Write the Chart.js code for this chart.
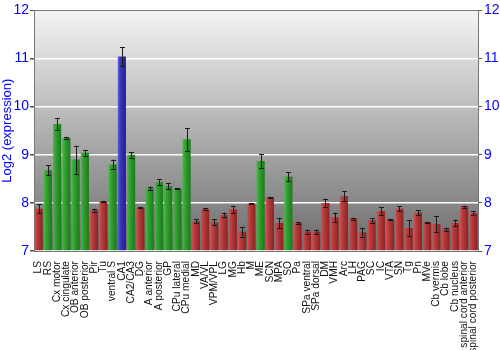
<!DOCTYPE html>
<html>
<head>
<meta charset="utf-8">
<script src="https://cdn.jsdelivr.net/npm/chart.js@4.4.1/dist/chart.umd.min.js"></script>
<style>
  html, body { margin: 0; padding: 0; background: #fff; }
  #wrap { width: 500px; height: 350px; }
</style>
</head>
<body>
<div id="wrap"><canvas id="c"></canvas></div>
<script>
// ---- data ----
const regions = [
  'LS', 'RS', 'Cx motor', 'Cx cingulate', 'OB anterior', 'OB posterior', 'Pir', 'Tu',
  'ventral S', 'CA1', 'CA2/CA3', 'DG', 'A anterior', 'A posterior', 'GP', 'CPu lateral',
  'CPu medial', 'MD', 'VA/VL', 'VPM/VPL', 'LG', 'MG', 'Hb', 'M', 'ME', 'SCN', 'MPA', 'SO',
  'Pa', 'SPa ventral', 'SPa dorsal', 'DM', 'VMH', 'Arc', 'LH', 'PAG', 'SC', 'IC', 'VTA',
  'SN', 'Tg', 'Pn', 'MVe', 'Cb vermis', 'Cb lobe', 'Cb nucleus', 'spinal cord anterior',
  'spinal cord posterior'
];
const expression = [
  7.88, 8.68, 9.64, 9.35, 8.90, 9.04, 7.85, 8.03,
  8.80, 11.04, 9.00, 7.90, 8.30, 8.43, 8.35, 8.30,
  9.32, 7.62, 7.87, 7.60, 7.75, 7.87, 7.40, 7.98, 8.87, 8.12, 7.58, 8.55,
  7.58, 7.40, 7.40, 8.00, 7.70, 8.14, 7.67, 7.39, 7.64, 7.83, 7.66,
  7.88, 7.48, 7.80, 7.60, 7.56, 7.45, 7.58, 7.92,
  7.79
];
const errors = [
  0.09, 0.10, 0.12, 0.02, 0.29, 0.06, 0.03, 0.01,
  0.10, 0.20, 0.06, 0.01, 0.04, 0.06, 0.06, 0.01,
  0.24, 0.04, 0.02, 0.06, 0.05, 0.07, 0.10, 0.01, 0.14, 0.01, 0.11, 0.09,
  0.02, 0.04, 0.04, 0.09, 0.10, 0.10, 0.02, 0.09, 0.05, 0.08, 0.01,
  0.05, 0.16, 0.05, 0.01, 0.16, 0.03, 0.07, 0.02,
  0.04
];
// r = red, g = green, b = blue
const groups = [
  'r', 'g', 'g', 'g', 'g', 'g', 'r', 'r',
  'g', 'b', 'g', 'r', 'g', 'g', 'g', 'g',
  'g', 'r', 'r', 'r', 'r', 'r', 'r', 'r', 'g', 'r', 'r', 'g',
  'r', 'r', 'r', 'r', 'r', 'r', 'r', 'r', 'r', 'r', 'r',
  'r', 'r', 'r', 'r', 'r', 'r', 'r', 'r',
  'r'
];
const yTicks = [7, 8, 9, 10, 11, 12];

const palette = {
  r: ['#c85252', '#b63a3a', '#8c2222'],
  g: ['#48b848', '#2fa02f', '#1e781e'],
  b: ['#5a5ad6', '#3636b8', '#20208c']
};

function barFill(context) {
  const chart = context.chart;
  const g = palette[groups[context.dataIndex]] || palette.r;
  if (!chart.chartArea) return g[1];
  const x = chart.scales.x.getPixelForValue(context.dataIndex);
  const w = 8;
  const grad = chart.ctx.createLinearGradient(x - w / 2, 0, x + w / 2, 0);
  grad.addColorStop(0, g[0]);
  grad.addColorStop(0.35, g[1]);
  grad.addColorStop(1, g[2]);
  return grad;
}

// plot-area background gradient
const bgPlugin = {
  id: 'bgGradient',
  beforeDraw(chart) {
    const { ctx, chartArea: a } = chart;
    const grad = ctx.createLinearGradient(0, a.top, 0, a.bottom);
    grad.addColorStop(0, '#f4f4f4');
    grad.addColorStop(1, '#6c6c6c');
    ctx.save();
    ctx.fillStyle = grad;
    ctx.fillRect(a.left, a.top, a.right - a.left, a.bottom - a.top);
    ctx.restore();
  }
};

// error bars
const errPlugin = {
  id: 'errorBars',
  afterDatasetsDraw(chart) {
    const { ctx } = chart;
    const xs = chart.scales.x, ys = chart.scales.y;
    ctx.save();
    ctx.strokeStyle = '#1a1a1a';
    ctx.lineWidth = 1;
    expression.forEach((v, i) => {
      const x = Math.round(xs.getPixelForValue(i)) + 0.5;
      const y1 = ys.getPixelForValue(v - errors[i]);
      const y2 = ys.getPixelForValue(v + errors[i]);
      ctx.beginPath();
      ctx.moveTo(x, y1); ctx.lineTo(x, y2);
      ctx.moveTo(x - 2.5, Math.round(y1) + 0.5); ctx.lineTo(x + 2.5, Math.round(y1) + 0.5);
      ctx.moveTo(x - 2.5, Math.round(y2) + 0.5); ctx.lineTo(x + 2.5, Math.round(y2) + 0.5);
      ctx.stroke();
    });
    ctx.restore();
  }
};

const blue = '#0000ff';
const axisFont = { family: '"Liberation Sans", Arial, sans-serif', size: 14 };

new Chart(document.getElementById('c'), {
  type: 'bar',
  data: {
    labels: regions,
    datasets: [{
      data: expression,
      backgroundColor: barFill,
      borderWidth: 0,
      barPercentage: 0.88,
      categoryPercentage: 1.0,
      base: 7
    }]
  },
  options: {
    responsive: true,
    maintainAspectRatio: false,
    animation: false,
    layout: { padding: { top: 9, right: 0, bottom: 0, left: 0 } },
    plugins: {
      legend: { display: false },
      tooltip: { enabled: false }
    },
    scales: {
      x: {
        grid: { display: false },
        border: { color: '#777' },
        ticks: {
          autoSkip: false,
          maxRotation: 90,
          minRotation: 90,
          padding: 2,
          color: '#111',
          font: { family: '"Liberation Sans", Arial, sans-serif', size: 10.2 }
        },
        afterFit(scale) { scale.height = 99; }
      },
      y: {
        position: 'left',
        min: 7,
        max: 12,
        afterBuildTicks(scale) { scale.ticks = yTicks.map(v => ({ value: v })); },
        grid: {
          color: (c) => (c.tick && c.tick.value === 12 ? '#777' : '#ffffff'),
          lineWidth: (c) => (c.tick && c.tick.value === 12 ? 1 : 1.5),
          tickColor: '#555',
          tickLength: 4
        },
        border: { color: '#777' },
        ticks: { color: blue, padding: 1, font: axisFont },
        title: {
          display: true,
          text: 'Log2 (expression)',
          color: blue,
          padding: 0,
          font: { family: '"Liberation Sans", Arial, sans-serif', size: 13 }
        },
        afterFit(scale) { scale.width = 34; }
      },
      y2: {
        position: 'right',
        min: 7,
        max: 12,
        afterBuildTicks(scale) { scale.ticks = yTicks.map(v => ({ value: v })); },
        grid: { drawOnChartArea: false, tickColor: '#555', tickLength: 4 },
        border: { color: '#777' },
        ticks: { color: blue, padding: 2, font: axisFont },
        afterFit(scale) { scale.width = 22; }
      }
    }
  },
  plugins: [bgPlugin, errPlugin]
});
</script>
</body>
</html>
